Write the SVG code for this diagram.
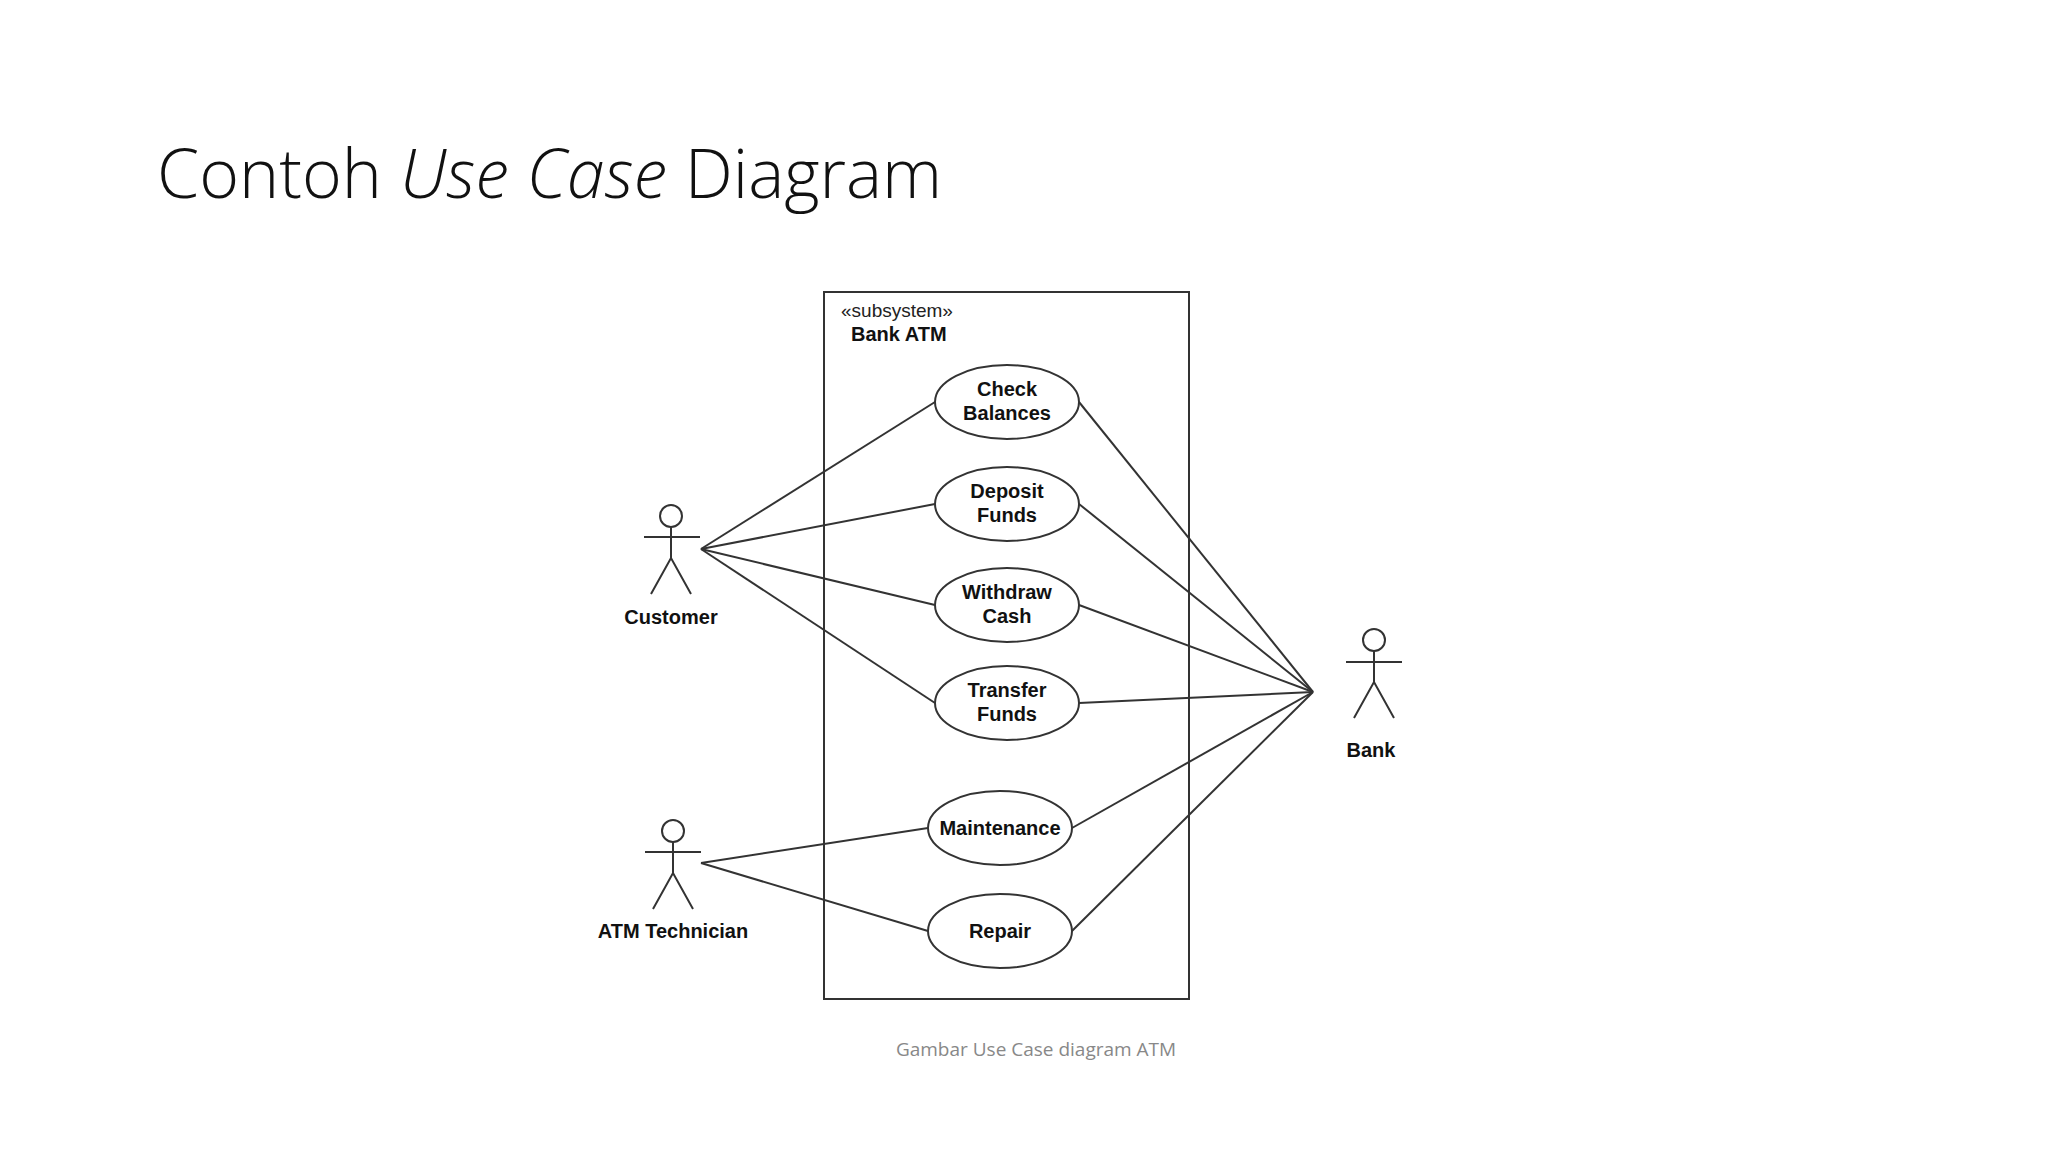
<svg xmlns="http://www.w3.org/2000/svg" width="2048" height="1152" viewBox="0 0 2048 1152">
<style>
.t{font-family:"Liberation Sans",Arial,sans-serif;font-weight:bold;font-size:20px;text-anchor:middle;fill:#111}
.s{fill:none;stroke:#333;stroke-width:2}
.u{fill:#fff;stroke:#333;stroke-width:2}
</style>
<rect width="2048" height="1152" fill="#fff"/>
<text x="157" y="198" font-family="Open Sans,Lato,sans-serif" font-weight="300" font-size="68" fill="#111">Contoh <tspan font-style="italic">Use Case</tspan> Diagram</text>
<g id="subsystem">
<rect x="824" y="292" width="365" height="707" class="s"/>
<text x="841" y="317" font-family="Liberation Sans,Arial,sans-serif" font-size="19" fill="#222">«subsystem»</text>
<text x="851" y="341" font-family="Liberation Sans,Arial,sans-serif" font-weight="bold" font-size="20" fill="#111">Bank ATM</text>
</g>
<g id="connectors" class="s">
<line x1="701" y1="549" x2="935" y2="402"/>
<line x1="701" y1="549" x2="935" y2="504"/>
<line x1="701" y1="549" x2="935" y2="605"/>
<line x1="701" y1="549" x2="935" y2="703"/>
<line x1="701" y1="863" x2="928" y2="828"/>
<line x1="701" y1="863" x2="928" y2="931"/>
<line x1="1313" y1="692" x2="1079" y2="402"/>
<line x1="1313" y1="692" x2="1079" y2="504"/>
<line x1="1313" y1="692" x2="1079" y2="605"/>
<line x1="1313" y1="692" x2="1079" y2="703"/>
<line x1="1313" y1="692" x2="1072" y2="828"/>
<line x1="1313" y1="692" x2="1072" y2="931"/>
</g>
<g id="uc-check"><ellipse cx="1007" cy="402" rx="72" ry="37" class="u"/><text class="t" x="1007" y="396">Check</text><text class="t" x="1007" y="420">Balances</text></g>
<g id="uc-deposit"><ellipse cx="1007" cy="504" rx="72" ry="37" class="u"/><text class="t" x="1007" y="498">Deposit</text><text class="t" x="1007" y="522">Funds</text></g>
<g id="uc-withdraw"><ellipse cx="1007" cy="605" rx="72" ry="37" class="u"/><text class="t" x="1007" y="599">Withdraw</text><text class="t" x="1007" y="623">Cash</text></g>
<g id="uc-transfer"><ellipse cx="1007" cy="703" rx="72" ry="37" class="u"/><text class="t" x="1007" y="697">Transfer</text><text class="t" x="1007" y="721">Funds</text></g>
<g id="uc-maintenance"><ellipse cx="1000" cy="828" rx="72" ry="37" class="u"/><text class="t" x="1000" y="835">Maintenance</text></g>
<g id="uc-repair"><ellipse cx="1000" cy="931" rx="72" ry="37" class="u"/><text class="t" x="1000" y="938">Repair</text></g>
<g id="actor-customer" class="s">
<circle cx="671" cy="516" r="11"/><line x1="671" y1="527" x2="671" y2="558"/><line x1="644" y1="537" x2="700" y2="537"/><polyline points="651,594 671,558 691,594"/>
<text class="t" x="671" y="624" stroke="none">Customer</text>
</g>
<g id="actor-technician" class="s">
<circle cx="673" cy="831" r="11"/><line x1="673" y1="842" x2="673" y2="873"/><line x1="645" y1="852" x2="701" y2="852"/><polyline points="653,909 673,873 693,909"/>
<text class="t" x="673" y="938" stroke="none">ATM Technician</text>
</g>
<g id="actor-bank" class="s">
<circle cx="1374" cy="640" r="11"/><line x1="1374" y1="651" x2="1374" y2="682"/><line x1="1346" y1="662" x2="1402" y2="662"/><polyline points="1354,718 1374,682 1394,718"/>
<text class="t" x="1371" y="757" stroke="none">Bank</text>
</g>
<text x="1036" y="1056" font-family="Open Sans,Lato,sans-serif" font-size="19" fill="#888" text-anchor="middle">Gambar Use Case diagram ATM</text>
</svg>
